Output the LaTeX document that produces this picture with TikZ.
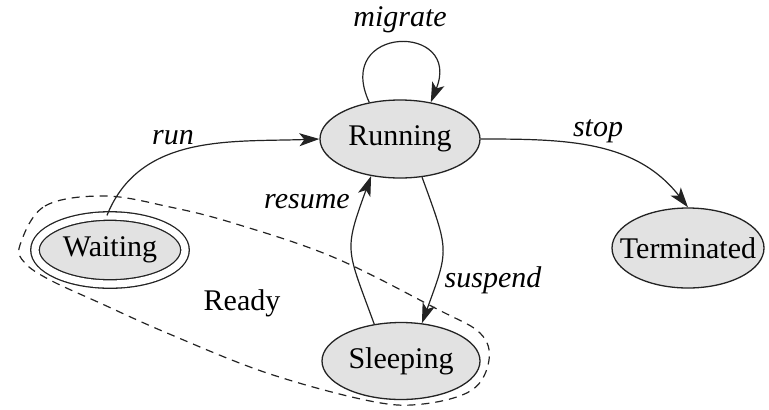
\documentclass[tikz,border=0pt]{standalone}
\usepackage{fontspec}
\setmainfont{Liberation Serif}
\usetikzlibrary{shapes.geometric,arrows.meta}
\definecolor{statefill}{RGB}{226,226,226}
\definecolor{inkline}{RGB}{35,35,35}
\tikzset{
  state/.style={ellipse, draw=inkline, line width=0.65pt, fill=statefill,
    inner sep=0pt, font=\fontsize{15}{18}\selectfont},
  edge/.style={draw=inkline, line width=0.6pt,
    -{Stealth[length=10pt,width=6.5pt,inset=2.5pt]}},
  elabel/.style={font=\fontsize{15}{18}\selectfont\itshape},
  region/.style={draw=inkline, line width=0.6pt, dash pattern=on 4pt off 3pt}
}
% state text takes no width, so the ellipse keeps its given size
\newcommand{\statetext}[1]{\makebox[0pt]{#1}}
\begin{document}
\begin{tikzpicture}[x=0.5pt, y=0.5pt]
  \useasboundingbox (0,0) rectangle (769,409);

  % states
  \node[state, minimum width=80pt, minimum height=39pt] (Running) at (400,270) {\statetext{Running}};
  \node[state, minimum width=75pt, minimum height=34pt,
        double=white, double distance=3.6pt] (Waiting) at (110,159) {\statetext{Waiting}};
  \node[state, minimum width=79pt, minimum height=38.5pt] (Sleeping) at (401,48) {\statetext{Sleeping}};
  \node[state, minimum width=76pt, minimum height=40pt] (Terminated) at (688,161) {\statetext{Terminated}};

  % the Ready group around Waiting and Sleeping
  \draw[region] plot[smooth cycle, tension=0.6] coordinates {
    (20,164) (45,203) (105,213) (170,202) (233,186) (333,152) (437,100)
    (480,76) (489,49) (472,19) (423,5) (370,8) (267,36) (167,76)
    (100,106) (50,129) (25,146)};
  \node[font=\fontsize{15}{18}\selectfont] (ready) at (242,106) {Ready};

  % transitions
  \draw[edge] (Waiting.95) to[out=68, in=182] (Running.west);
  \draw[edge] (Running.130) .. controls +(115:86) and +(68:86) .. (Running.50);
  \draw[edge] (Running.east) to[out=0, in=128] (Terminated.north);
  \draw[edge] (Sleeping.126) to[out=110, in=250, looseness=1.4] (Running.232);
  \draw[edge] (Running.300) to[out=-70, in=70, looseness=1.4] (Sleeping.61);

  % transition labels
  \node[elabel] (lmigrate) at (400,389) {migrate};
  \node[elabel] (lrun) at (173,271) {run};
  \node[elabel] (lstop) at (598,278) {stop};
  \node[elabel] (lresume) at (307,207) {resume};
  \node[elabel] (lsuspend) at (493,129) {suspend};
\end{tikzpicture}
\end{document}
